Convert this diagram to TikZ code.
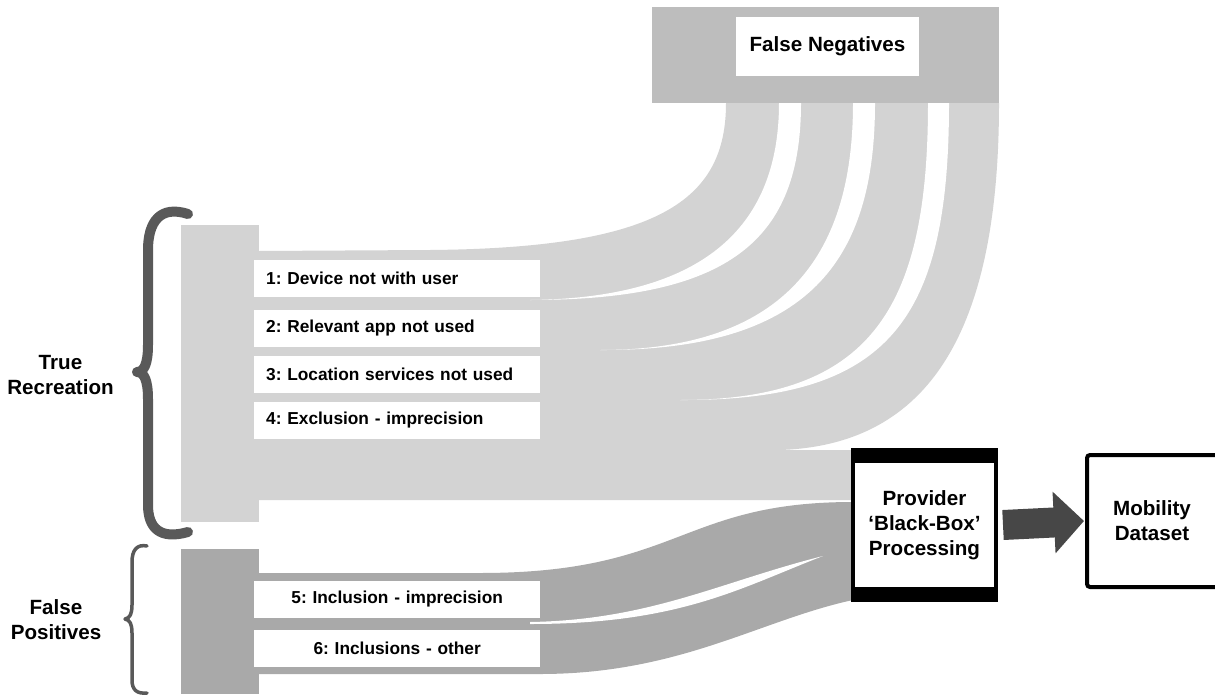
\documentclass[tikz,border=0pt]{standalone}
\usepackage{fontspec}
\setmainfont{Liberation Sans}
\usetikzlibrary{arrows.meta}
\definecolor{truegray}{HTML}{D3D3D3}
\definecolor{fngray}{HTML}{BDBDBD}
\definecolor{fpgray}{HTML}{A9A9A9}
\definecolor{bracegray}{HTML}{595959}
\definecolor{arrowgray}{HTML}{474747}
\newcommand\labfont{\fontsize{17.3}{21}\selectfont\bfseries\frenchspacing}
\newcommand\headfont{\fontsize{20.6}{25}\selectfont\bfseries}
\begin{document}
\begin{tikzpicture}[x=1pt,y=-1pt,
  lab/.style={fill=white,inner xsep=12pt,inner ysep=0pt,text width=262pt,minimum height=37pt,font=\labfont,anchor=west},
  head/.style={align=center,font=\headfont},
  brace/.style={draw=bracegray,line cap=round,line join=round},
  gap/.style={fill=white}]
 \useasboundingbox (0,0) rectangle (1215,696);
 \clip (0,0) rectangle (1215,696);
 % true recreation
 \fill[truegray] (181,225) rectangle (259,522);
 \fill[truegray] (259,251) -- (430,250) .. controls (660,248) and (726,200) .. (726,103)
   -- (999,103) .. controls (999,330) and (930,445) .. (780,450) -- (853,450) -- (853,500) -- (259,500) -- cycle;
 \fill[gap] (530,300) .. controls (700,298) and (779,230) .. (779,103) -- (801,103) .. controls (801,240) and (730,300) .. (530,300) -- cycle;
 \fill[gap] (600,350) .. controls (790,350) and (853,250) .. (853,103) -- (875,103) .. controls (875,260) and (810,351) .. (600,350) -- cycle;
 \fill[gap] (680,400) .. controls (870,400) and (928,310) .. (928,103) -- (949,103) .. controls (949,320) and (890,401) .. (680,400) -- cycle;
 % false positives
 \fill[fpgray] (181,549) rectangle (259,694);
 \fill[fpgray] (259,573) -- (480,573) .. controls (680,573) and (680,502) .. (853,502)
   -- (853,600) .. controls (760,620) and (680,674) .. (540,674) -- (259,674) -- cycle;
 \fill[gap] (530,622) .. controls (650,620) and (720,582) .. (823,556) .. controls (740,588) and (680,624) .. (530,624) -- cycle;
 % labels
 \foreach \n/\y/\t in {1/278.5/Device not with user,2/328.5/Relevant app not used,
   3/374/Location services not used,4/420.5/Exclusion - imprecision}
   \node[lab,align=left] (lab\n) at (254,\y) {\n: \t};
 \node[lab,align=center] (lab5) at (254,599) {5: Inclusion - imprecision};
 \node[lab,align=center] (lab6) at (254,648.5) {6: Inclusions - other};
 % boxes
 \node[fill=fngray,minimum width=347pt,minimum height=96pt,inner sep=0pt] (fnbox) at (825.5,55) {};
 \node[fill=white,minimum width=183pt,minimum height=59pt,head] (fnlab) at (827.5,46.5) {False Negatives};
 \node[draw,line width=4pt,fill=white,minimum width=143pt,minimum height=150pt,head] (provider) at (924.5,525) {Provider\\‘Black-Box’\\Processing};
 \fill (provider.north west) rectangle ([yshift=-15pt]provider.north east);
 \fill ([yshift=15pt]provider.south west) rectangle (provider.south east);
 \node[draw,line width=4pt,rounded corners=3pt,fill=white,minimum width=146pt,minimum height=132pt,head] (mobility) at (1160,521) {\hspace*{-16pt}Mobility\\\hspace*{-16pt}Dataset};
 \draw[arrowgray,line width=30pt,-{Triangle[length=30pt,width=60pt]}] ([xshift=5pt]provider.east) -- ([xshift=-1pt]mobility.west);
 % braces
 \node[head] (truerec) at (60.5,375) {True\\Recreation};
 \node[head] (falsepos) at (56,620) {False\\Positives};
 \draw[brace,line width=10pt] (188,214) .. controls (160,205) and (148,222) .. (148,250) -- (148,345)
   .. controls (148,364) and (144,372) .. (137,372) .. controls (144,372) and (148,380) .. (148,399)
   -- (148,505) .. controls (148,528) and (160,540) .. (188,532);
 \draw[brace,line width=3.5pt] (147,546) .. controls (137,544) and (132,550) .. (132,562) -- (132,605)
   .. controls (132,614) and (130,618) .. (125,619) .. controls (130,620) and (132,624) .. (132,633)
   -- (132,680) .. controls (132,690) and (137,694) .. (147,693);
\end{tikzpicture}
\end{document}
